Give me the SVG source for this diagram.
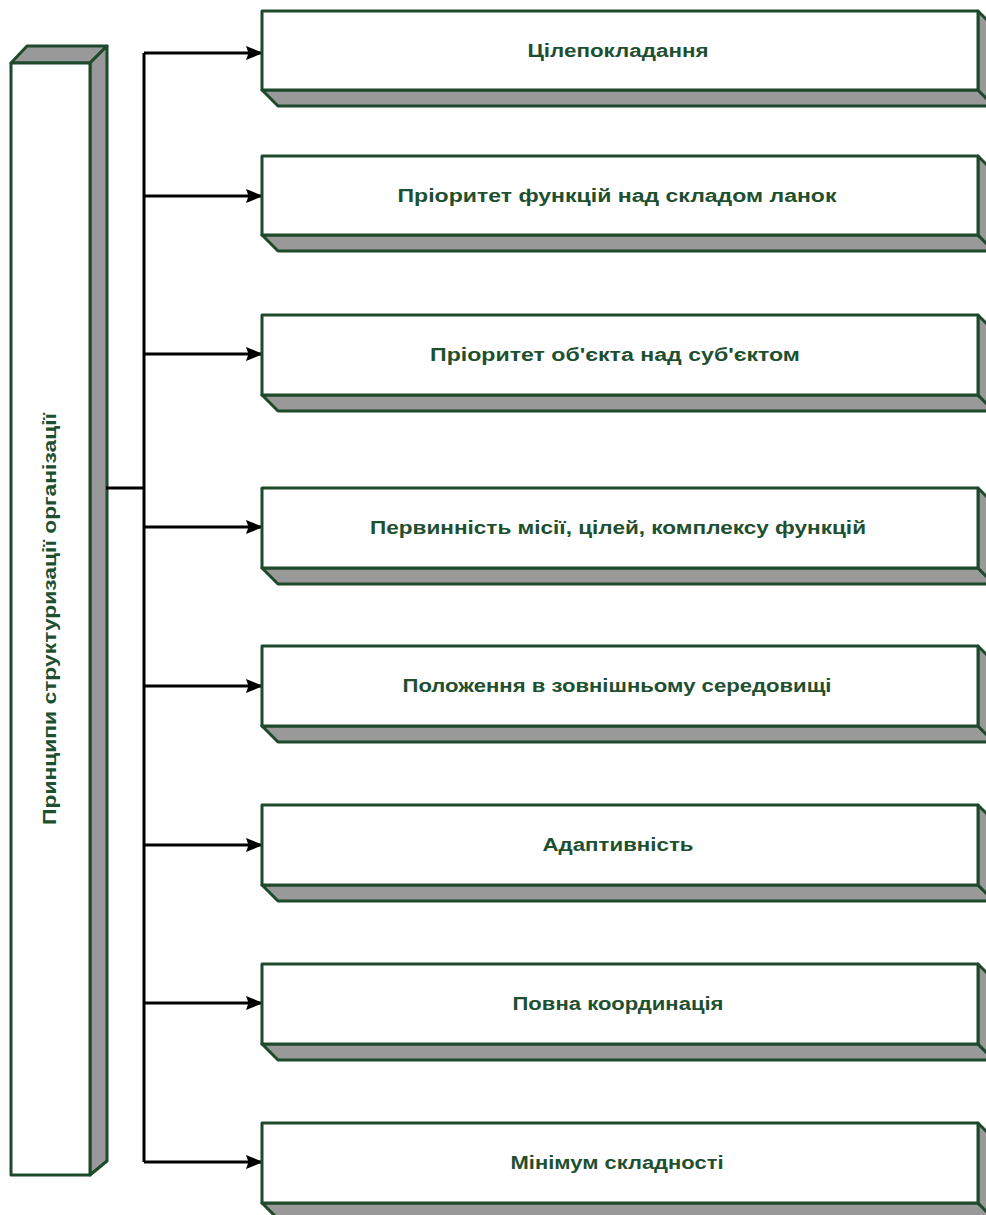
<svg xmlns="http://www.w3.org/2000/svg" width="986" height="1215" viewBox="0 0 986 1215">
  <defs>
    <style>
      .face { fill: #ffffff; stroke: #1d4a2a; stroke-width: 3; stroke-linejoin: round; }
      .side { fill: #999999; stroke: #1d4a2a; stroke-width: 3; stroke-linejoin: round; }
      .label { font-family: "Liberation Sans", Arial, sans-serif; font-weight: bold; font-size: 18px; fill: #1e5030; text-anchor: middle; }
      .wire { fill: none; stroke: #000000; stroke-width: 3; }
    </style>
    <marker id="arrow" viewBox="0 0 17 14" refX="16" refY="7" markerWidth="17" markerHeight="14" markerUnits="userSpaceOnUse" orient="auto">
      <path d="M0,0 L17,7 L0,14 L2.5,7 Z" fill="#000000"/>
    </marker>
  </defs>

  <!-- principal (vertical) block -->
  <g id="root">
    <polygon class="side" points="11,63 27,46 107,46 90,63"/>
    <polygon class="side" points="90,63 107,46 107,1161 90,1175"/>
    <rect class="face" x="11" y="63" width="79" height="1112"/>
    <text class="label" transform="translate(56,619) rotate(-90)" textLength="412" lengthAdjust="spacingAndGlyphs">Принципи структуризації організації</text>
  </g>

  <!-- connectors -->
  <g id="connectors">
    <path class="wire" d="M106,488 H144"/>
    <path class="wire" d="M144,53 V1162"/>
    <path class="wire" d="M144,53 H262" marker-end="url(#arrow)"/>
    <path class="wire" d="M144,196 H262" marker-end="url(#arrow)"/>
    <path class="wire" d="M144,354 H262" marker-end="url(#arrow)"/>
    <path class="wire" d="M144,527 H262" marker-end="url(#arrow)"/>
    <path class="wire" d="M144,686 H262" marker-end="url(#arrow)"/>
    <path class="wire" d="M144,845 H262" marker-end="url(#arrow)"/>
    <path class="wire" d="M144,1003 H262" marker-end="url(#arrow)"/>
    <path class="wire" d="M144,1162 H262" marker-end="url(#arrow)"/>
  </g>

  <!-- principle blocks -->
  <g id="n1">
    <polygon class="side" points="262,90 978,90 994,106 278,106"/>
    <polygon class="side" points="978,11 994,27 994,106 978,90"/>
    <rect class="face" x="262" y="11" width="716" height="79"/>
    <text class="label" x="618" y="57" textLength="181" lengthAdjust="spacingAndGlyphs">Цілепокладання</text>
  </g>
  <g id="n2">
    <polygon class="side" points="262,235 978,235 994,251 278,251"/>
    <polygon class="side" points="978,156 994,172 994,251 978,235"/>
    <rect class="face" x="262" y="156" width="716" height="79"/>
    <text class="label" x="617" y="202" textLength="439" lengthAdjust="spacingAndGlyphs">Пріоритет функцій над складом ланок</text>
  </g>
  <g id="n3">
    <polygon class="side" points="262,395 978,395 994,411 278,411"/>
    <polygon class="side" points="978,315 994,331 994,411 978,395"/>
    <rect class="face" x="262" y="315" width="716" height="80"/>
    <text class="label" x="615" y="361" textLength="370" lengthAdjust="spacingAndGlyphs">Пріоритет об'єкта над суб'єктом</text>
  </g>
  <g id="n4">
    <polygon class="side" points="262,568 978,568 994,584 278,584"/>
    <polygon class="side" points="978,488 994,504 994,584 978,568"/>
    <rect class="face" x="262" y="488" width="716" height="80"/>
    <text class="label" x="618" y="534" textLength="496" lengthAdjust="spacingAndGlyphs">Первинність місії, цілей, комплексу функцій</text>
  </g>
  <g id="n5">
    <polygon class="side" points="262,726 978,726 994,742 278,742"/>
    <polygon class="side" points="978,646 994,662 994,742 978,726"/>
    <rect class="face" x="262" y="646" width="716" height="80"/>
    <text class="label" x="617" y="692" textLength="429" lengthAdjust="spacingAndGlyphs">Положення в зовнішньому середовищі</text>
  </g>
  <g id="n6">
    <polygon class="side" points="262,885 978,885 994,901 278,901"/>
    <polygon class="side" points="978,805 994,821 994,901 978,885"/>
    <rect class="face" x="262" y="805" width="716" height="80"/>
    <text class="label" x="618" y="851" textLength="151" lengthAdjust="spacingAndGlyphs">Адаптивність</text>
  </g>
  <g id="n7">
    <polygon class="side" points="262,1044 978,1044 994,1060 278,1060"/>
    <polygon class="side" points="978,964 994,980 994,1060 978,1044"/>
    <rect class="face" x="262" y="964" width="716" height="80"/>
    <text class="label" x="618" y="1010" textLength="211" lengthAdjust="spacingAndGlyphs">Повна координація</text>
  </g>
  <g id="n8">
    <polygon class="side" points="262,1203 978,1203 994,1219 278,1219"/>
    <polygon class="side" points="978,1123 994,1139 994,1219 978,1203"/>
    <rect class="face" x="262" y="1123" width="716" height="80"/>
    <text class="label" x="617" y="1169" textLength="213" lengthAdjust="spacingAndGlyphs">Мінімум складності</text>
  </g>
</svg>
